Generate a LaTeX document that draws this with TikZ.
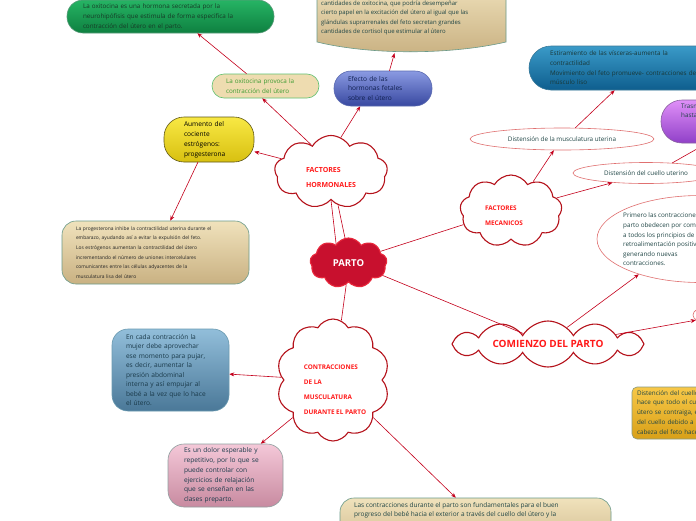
\documentclass[tikz,border=0pt]{standalone}
\usepackage{fontspec}
\setmainfont{Open Sans}
\usetikzlibrary{shapes.symbols,shapes.geometric,arrows.meta,calc}
\definecolor{linered}{HTML}{C4001C}
\definecolor{cloudred}{HTML}{B5121B}
\definecolor{cloudtext}{HTML}{FF1A1A}
\definecolor{partofill}{HTML}{C8102E}
\definecolor{partobd}{HTML}{E8283C}
\definecolor{textdark}{HTML}{1F4545}
\definecolor{greentop}{HTML}{26B464}
\definecolor{greenbot}{HTML}{0E8040}
\definecolor{greenbd}{HTML}{5A9A7A}
\definecolor{greentxt}{HTML}{173A26}
\definecolor{tantop}{HTML}{F0E2BC}
\definecolor{tanbot}{HTML}{C9B182}
\definecolor{tanbd}{HTML}{6A9A8A}
\definecolor{oxfill}{HTML}{EEDCB0}
\definecolor{oxbd}{HTML}{60C070}
\definecolor{oxtxt}{HTML}{3A9A30}
\definecolor{efetop}{HTML}{8A9AE2}
\definecolor{efebot}{HTML}{3848A0}
\definecolor{efebd}{HTML}{5A6AB0}
\definecolor{efetxt}{HTML}{102050}
\definecolor{yeltop}{HTML}{F8E844}
\definecolor{yelbot}{HTML}{D8C010}
\definecolor{yelbd}{HTML}{605818}
\definecolor{btrtop}{HTML}{3A9AC8}
\definecolor{btrbot}{HTML}{0E5E8E}
\definecolor{btrbd}{HTML}{3A7A9A}
\definecolor{purtop}{HTML}{E090F8}
\definecolor{purbot}{HTML}{9040C8}
\definecolor{purbd}{HTML}{8A60A0}
\definecolor{stbtop}{HTML}{92BEDA}
\definecolor{stbbot}{HTML}{4A7898}
\definecolor{stbbd}{HTML}{6A9AB0}
\definecolor{stbtxt}{HTML}{1A3A4A}
\definecolor{pinktop}{HTML}{F4C8D8}
\definecolor{pinkbot}{HTML}{C88AA0}
\definecolor{pinkbd}{HTML}{90A0A0}
\definecolor{ortop}{HTML}{F8C848}
\definecolor{orbot}{HTML}{D8A018}
\definecolor{orbd}{HTML}{8A9A80}
\definecolor{ovalred}{HTML}{E07070}
\newcommand\myfs[2]{\fontsize{#1}{#2}\selectfont}
\begin{document}
\begin{tikzpicture}[x=1pt,y=-1pt,
  box/.style={draw, line width=0.6pt, inner ysep=0pt, align=left, text=textdark},
  cloudbox/.style={cloud, cloud puffs=9, cloud puff arc=120, cloud ignores aspect,
    draw=cloudred, line width=1.1pt, fill=white, inner sep=0pt},
  cloudlabel/.style={inner sep=0pt, align=left, text=cloudtext},
  ovalbox/.style={ellipse, draw=ovalred, line width=0.6pt, fill=white, inner sep=0pt, text=textdark},
  arr/.style={draw=linered, line width=0.6pt, -{Stealth[length=5pt,width=4pt]}},
  ln/.style={draw=linered, line width=0.6pt}]
\useasboundingbox (0,0) rectangle (696,520);
\clip (0,0) rectangle (696,520);
\fill[white] (0,0) rectangle (696,520);

% top tan box with curved bottom
\node[minimum width=189, minimum height=72, inner sep=0pt] (tanbox) at (411.5,16) {};
\path[draw=tanbd, line width=0.6pt, top color=tantop, bottom color=tanbot]
  (317,-20) -- (317,42) .. controls (370,55) and (450,55) .. (506,42) -- (506,-20) -- cycle;
\node[anchor=north west, inner sep=0pt, align=left, font=\myfs{6}{9.5}, text=textdark] (tantext) at (321,0.5)
  {cantidades de oxitocina, que podría desempeñar\\cierto papel en la excitación del útero al igual que las\\glándulas suprarrenales del feto secretan grandes\\cantidades de cortisol que estimular al útero};

% green
\node[box, draw=greenbd, top color=greentop, bottom color=greenbot, rounded corners=16pt,
  minimum height=33, text width=175, inner xsep=16, font=\myfs{6.3}{10}, text=greentxt] (green) at (170.5,16.5)
  {La oxitocina es una hormona secretada por la\\neurohipófisis que estimula de forma especifica la\\contracción del útero en el parto.};

% oxitocina provoca
\node[box, draw=oxbd, fill=oxfill, rounded corners=12pt, minimum height=24, text width=79, inner xsep=14,
  font=\myfs{6.3}{9.5}, text=oxtxt] (oxp) at (265.5,86) {La oxitocina provoca la\\contracción del útero};

% efecto
\node[box, draw=efebd, top color=efetop, bottom color=efebot, rounded corners=17pt, minimum height=35,
  text width=70, inner xsep=14, font=\myfs{6.6}{9.5}, text=efetxt] (efe) at (383,88.5)
  {Efecto de las\\hormonas fetales\\sobre el útero};

% aumento
\node[box, draw=yelbd, top color=yeltop, bottom color=yelbot, rounded corners=20pt, minimum height=45,
  text width=50, inner xsep=20, font=\myfs{6.6}{10}, text=black] (aum) at (209,139.5)
  {Aumento del\\cociente\\estrógenos:\\progesterona};

% progesterona box
\node[box, draw=tanbd, top color=tantop, bottom color=tanbot, rounded corners=14pt, minimum height=63,
  text width=159, inner xsep=14, font=\myfs{4.9}{9.6}, text=black!85] (prog) at (155.5,252.5)
  {La progesterona inhibe la contractilidad uterina durante el\\embarazo, ayudando así a evitar la expulsión del feto.\\Los estrógenos aumentan la contractilidad del útero\\incrementando el número de uniones intercelulares\\comunicantes entre las células adyacentes de la\\musculatura lisa del útero};

% blue top right
\node[box, draw=btrbd, top color=btrtop, bottom color=btrbot, rounded corners=22pt, minimum height=44,
  text width=168, inner xsep=21, font=\myfs{6.3}{9.7}, text=textdark!80!black] (btr) at (634,68)
  {Estiramiento de las vísceras-aumenta la\\contractilidad\\Movimiento del feto promueve- contracciones del\\músculo liso};

% purple
\node[box, draw=purbd, top color=purtop, bottom color=purbot, rounded corners=21pt, minimum height=43,
  minimum width=120] (pur) at (721,121.5) {};
\node[anchor=north west, inner sep=0pt, align=left, font=\myfs{6.3}{9.5}, text=textdark] (purtext) at (681,103)
  {Trasmisión del estímulo\\hasta el hipotálamo};

% ellipses
\node[ovalbox, minimum width=184, minimum height=22, font=\myfs{6.3}{8}] (musc) at (562,139)
  {Distensión de la musculatura uterina};
\node[ovalbox, minimum width=146, minimum height=21, font=\myfs{6.3}{8}] (cue) at (646,173)
  {Distensión del cuello uterino};
\node[ovalbox, minimum width=206, minimum height=87] (pri) at (700,239) {};
\node[anchor=west, inner sep=0pt, align=left, font=\myfs{6.3}{9.6}, text=textdark] (pritext) at (623,239.5)
  {Primero las contracciones del\\parto obedecen por completo\\a todos los principios de\\retroalimentación positiva\\generando nuevas\\contracciones.};
\node[ovalbox, minimum width=104, minimum height=30] (sml) at (745,315) {};

% orange
\node[box, draw=orbd, top color=ortop, bottom color=orbot, rounded corners=5pt, minimum height=52,
  text width=140, inner xsep=5, font=\myfs{6.3}{9.7}] (ora) at (707,413)
  {Distención del cuello uterino\\hace que todo el cuerpo del\\útero se contraiga, estirando\\del cuello debido a que la\\cabeza del feto hace presión};

% steel blue
\node[box, draw=stbbd, top color=stbtop, bottom color=stbbot, rounded corners=16pt, minimum height=82,
  text width=89, inner xsep=14, font=\myfs{6.6}{9.5}, text=stbtxt] (stb) at (170.5,370)
  {En cada contracción la\\mujer debe aprovechar\\ese momento para pujar,\\es decir, aumentar la\\presión abdominal\\interna y así empujar al\\bebé a la vez que lo hace\\el útero.};

% pink
\node[box, draw=pinkbd, top color=pinktop, bottom color=pinkbot, rounded corners=16pt, minimum height=63,
  text width=83, inner xsep=16, font=\myfs{6.6}{9.7}, text=stbtxt] (pink) at (225.5,475.5)
  {Es un dolor esperable y\\repetitivo, por lo que se\\puede controlar con\\ejercicios de relajación\\que se enseñan en las\\clases preparto.};

% bottom tan
\node[box, draw=tanbd, top color=tantop, bottom color=tanbot, rounded corners=14pt, minimum height=60,
  minimum width=271] (btm) at (475.5,528) {};
\node[anchor=north west, inner sep=0pt, align=left, font=\myfs{6.5}{9}, text=textdark] (btmtext) at (354,502)
  {Las contracciones durante el parto son fundamentales para el buen\\progreso del bebé hacia el exterior a través del cuello del útero y la};

% clouds
\node[cloudbox, minimum width=113, minimum height=73] (fh) at (331,172) {};
\node[cloudlabel, font=\myfs{7}{15}\bfseries] (fhl) at (331,177.5) {FACTORES\\HORMONALES};
\node[cloudbox, draw=partobd, fill=partofill, minimum width=77, minimum height=50,
  text=white, font=\myfs{9.5}{11}\bfseries] (parto) at (348.5,263) {PARTO};
\node[cloudbox, minimum width=102, minimum height=72] (fm) at (511,211) {};
\node[cloudlabel, font=\myfs{6.4}{15}\bfseries] (fml) at (504,215.5) {FACTORES\\MECANICOS};
\node[cloudbox, cloud puffs=10, minimum width=113, minimum height=122] (contr) at (333,380) {};
\node[cloudlabel, font=\myfs{6.4}{15}\bfseries] (contrl) at (335,389.5) {CONTRACCIONES\\DE LA\\MUSCULATURA\\DURANTE EL PARTO};
\node[cloudbox, cloud puffs=12, minimum width=192, minimum height=46, text=cloudtext,
  font=\myfs{10}{12}\bfseries] (com) at (548,344) {COMIENZO DEL PARTO};

% connectors
\draw[arr] (fh.165) -- (aum.-15);
\draw[arr] (fh.126) -- (oxp.-105);
\draw[arr] (oxp.147) -- (green.-32);
\draw[arr] (fh.74) -- (efe.218);
\draw[arr] (efe.70) -- ($(tanbox.south)+(-17,1)$);
\draw[arr] (aum.244) -- (prog.65);
\draw[ln] (fh.south) -- (parto.123);
\draw[ln] (fh.-78) -- (parto.98);
\draw[ln] (parto.20) -- (fm.196);
\draw[ln] (parto.-20) -- (com.157);
\draw[ln] (parto.-96) -- (contr.82);
\draw[arr] (fm.53) -- (musc.234);
\draw[arr] (musc.40) -- (btr.229);
\draw[arr] (fm.16) -- (cue.196);
\draw[arr] (cue.21) -- (pur.237);
\draw[arr] (com.41) -- (pri.210);
\draw[arr] (com.8) -- (sml.186);
\draw[arr] (contr.177) -- (stb.-4);
\draw[arr] (contr.223) -- (pink.42);
\draw[arr] (contr.-43) -- (btm.123);
\end{tikzpicture}
\end{document}
